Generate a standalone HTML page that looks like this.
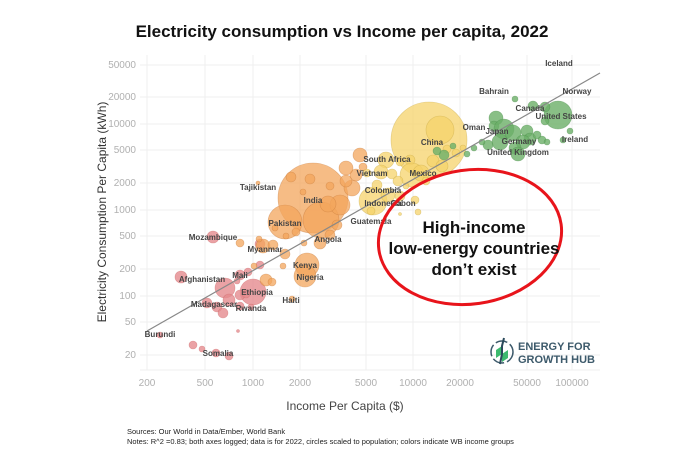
<!DOCTYPE html>
<html><head><meta charset="utf-8"><style>
html,body{margin:0;padding:0;background:#fff;}
svg{display:block;font-family:"Liberation Sans",sans-serif;}
</style></head><body>
<svg width="696" height="464" viewBox="0 0 696 464" xmlns="http://www.w3.org/2000/svg">
<rect width="696" height="464" fill="#fff"/>
<text x="342" y="37" text-anchor="middle" font-size="17" font-weight="bold" fill="#111">Electricity consumption vs Income per capita, 2022</text>
<g stroke="#efefef" stroke-width="1">
<line x1="147" y1="55" x2="147" y2="370"/><line x1="205" y1="55" x2="205" y2="370"/><line x1="253" y1="55" x2="253" y2="370"/><line x1="300" y1="55" x2="300" y2="370"/><line x1="366" y1="55" x2="366" y2="370"/><line x1="413" y1="55" x2="413" y2="370"/><line x1="460" y1="55" x2="460" y2="370"/><line x1="527" y1="55" x2="527" y2="370"/><line x1="572" y1="55" x2="572" y2="370"/>
<line x1="140" y1="65" x2="600" y2="65"/><line x1="140" y1="97" x2="600" y2="97"/><line x1="140" y1="124" x2="600" y2="124"/><line x1="140" y1="150" x2="600" y2="150"/><line x1="140" y1="183" x2="600" y2="183"/><line x1="140" y1="210" x2="600" y2="210"/><line x1="140" y1="236" x2="600" y2="236"/><line x1="140" y1="269" x2="600" y2="269"/><line x1="140" y1="296" x2="600" y2="296"/><line x1="140" y1="322" x2="600" y2="322"/><line x1="140" y1="355" x2="600" y2="355"/>
<line x1="140" y1="370" x2="600" y2="370"/>
</g>
<g font-size="10" fill="#b0b0b0" text-anchor="end">
<text x="136" y="68">50000</text><text x="136" y="100">20000</text><text x="136" y="127">10000</text><text x="136" y="153">5000</text><text x="136" y="186">2000</text><text x="136" y="213">1000</text><text x="136" y="239">500</text><text x="136" y="272">200</text><text x="136" y="299">100</text><text x="136" y="325">50</text><text x="136" y="358">20</text>
</g>
<g font-size="10" fill="#b0b0b0" text-anchor="middle">
<text x="147" y="386">200</text><text x="205" y="386">500</text><text x="253" y="386">1000</text><text x="300" y="386">2000</text><text x="366" y="386">5000</text><text x="413" y="386">10000</text><text x="460" y="386">20000</text><text x="527" y="386">50000</text><text x="572" y="386">100000</text>
</g>
<text x="345" y="410" text-anchor="middle" font-size="12" fill="#444">Income Per Capita ($)</text>
<text transform="translate(106,212) rotate(-90)" text-anchor="middle" font-size="12" fill="#333">Electricity Consumption Per Capita (kWh)</text>
<g fill="#e58b8f" fill-opacity="0.8" stroke="#c66" stroke-opacity="0.5" stroke-width="0.6">
<circle cx="213" cy="237" r="6"/><circle cx="181" cy="277" r="6"/><circle cx="225" cy="288" r="10"/><circle cx="229" cy="300" r="6"/><circle cx="207" cy="303" r="5"/><circle cx="217" cy="307" r="5"/><circle cx="223" cy="313" r="5"/><circle cx="253" cy="292" r="13"/><circle cx="240" cy="295" r="5"/><circle cx="240" cy="275" r="5"/><circle cx="248" cy="272" r="4"/><circle cx="260" cy="265" r="4"/><circle cx="240" cy="306" r="4"/><circle cx="251" cy="307" r="3"/><circle cx="160" cy="335" r="3"/><circle cx="193" cy="345" r="4"/><circle cx="202" cy="349" r="3"/><circle cx="216" cy="353" r="4"/><circle cx="229" cy="356" r="4"/><circle cx="238" cy="331" r="1.5"/><circle cx="260" cy="244" r="5"/><circle cx="246" cy="294" r="4"/><circle cx="237" cy="281" r="3"/>
</g>
<g fill="#f3a55c" fill-opacity="0.75" stroke="#c8793a" stroke-opacity="0.5" stroke-width="0.6">
<circle cx="313" cy="198" r="35"/><circle cx="285" cy="222" r="17"/><circle cx="321" cy="220" r="18"/><circle cx="291" cy="177" r="5"/><circle cx="310" cy="179" r="5"/><circle cx="303" cy="192" r="3"/><circle cx="340" cy="205" r="10"/><circle cx="352" cy="188" r="8"/><circle cx="360" cy="155" r="7"/><circle cx="363" cy="167" r="4"/><circle cx="346" cy="181" r="6"/><circle cx="356" cy="175" r="6"/><circle cx="346" cy="168" r="7"/><circle cx="330" cy="186" r="4"/><circle cx="328" cy="204" r="8"/><circle cx="307" cy="265" r="12"/><circle cx="305" cy="276" r="11"/><circle cx="263" cy="246" r="7"/><circle cx="273" cy="245" r="5"/><circle cx="285" cy="254" r="5"/><circle cx="283" cy="266" r="3"/><circle cx="320" cy="243" r="6"/><circle cx="330" cy="235" r="5"/><circle cx="266" cy="280" r="6"/><circle cx="272" cy="282" r="4"/><circle cx="286" cy="236" r="3"/><circle cx="292" cy="299" r="3"/><circle cx="275" cy="228" r="3"/><circle cx="296" cy="232" r="4"/><circle cx="304" cy="243" r="3"/><circle cx="337" cy="225" r="5"/><circle cx="240" cy="243" r="4"/><circle cx="254" cy="266" r="3"/><circle cx="259" cy="239" r="3"/><circle cx="258" cy="183" r="2"/>
</g>
<g fill="#f5d36b" fill-opacity="0.75" stroke="#c8a840" stroke-opacity="0.5" stroke-width="0.6">
<circle cx="429" cy="140" r="38"/><circle cx="440" cy="130" r="14"/><circle cx="410" cy="160" r="5"/><circle cx="373" cy="201" r="14"/><circle cx="386" cy="160" r="8"/><circle cx="381" cy="172" r="7"/><circle cx="392" cy="174" r="5"/><circle cx="388" cy="195" r="7"/><circle cx="400" cy="196" r="5"/><circle cx="412" cy="175" r="12"/><circle cx="421" cy="173" r="8"/><circle cx="433" cy="161" r="6"/><circle cx="442" cy="166" r="6"/><circle cx="377" cy="185" r="5"/><circle cx="367" cy="173" r="4"/><circle cx="398" cy="181" r="5"/><circle cx="406" cy="186" r="3"/><circle cx="415" cy="200" r="4"/><circle cx="400" cy="162" r="4"/><circle cx="456" cy="153" r="4"/><circle cx="463" cy="148" r="3"/><circle cx="418" cy="212" r="3"/><circle cx="447" cy="149" r="4"/><circle cx="371" cy="211" r="4"/><circle cx="426" cy="181" r="4"/><circle cx="400" cy="214" r="1.5"/>
</g>
<g fill="#6caf68" fill-opacity="0.8" stroke="#4a8c4a" stroke-opacity="0.5" stroke-width="0.6">
<circle cx="558" cy="115" r="14"/><circle cx="545" cy="107" r="5"/><circle cx="533" cy="106" r="5"/><circle cx="545" cy="121" r="4"/><circle cx="496" cy="118" r="7"/><circle cx="494" cy="126" r="5"/><circle cx="504" cy="129" r="10"/><circle cx="513" cy="133" r="8"/><circle cx="527" cy="131" r="6"/><circle cx="530" cy="139" r="6"/><circle cx="523" cy="142" r="7"/><circle cx="515" cy="148" r="6"/><circle cx="500" cy="142" r="8"/><circle cx="488" cy="145" r="5"/><circle cx="518" cy="154" r="7"/><circle cx="537" cy="135" r="4"/><circle cx="542" cy="140" r="4"/><circle cx="563" cy="140" r="3"/><circle cx="515" cy="99" r="3"/><circle cx="547" cy="142" r="3"/><circle cx="482" cy="142" r="3"/><circle cx="474" cy="148" r="3"/><circle cx="467" cy="154" r="3"/><circle cx="444" cy="155" r="5"/><circle cx="437" cy="151" r="4"/><circle cx="453" cy="146" r="3"/><circle cx="570" cy="131" r="3"/>
</g>
<line x1="147" y1="331" x2="600" y2="73" stroke="#888" stroke-width="1.2"/>
<g font-size="8" font-weight="bold" fill="#444" text-anchor="middle">
<text x="559" y="66">Iceland</text><text x="494" y="94">Bahrain</text><text x="577" y="94">Norway</text><text x="530" y="111">Canada</text><text x="561" y="119">United States</text><text x="474" y="130">Oman</text><text x="497" y="134">Japan</text><text x="519" y="144">Germany</text><text x="575" y="142">Ireland</text><text x="518" y="155">United Kingdom</text><text x="432" y="145">China</text><text x="423" y="176">Mexico</text><text x="387" y="162">South Africa</text><text x="372" y="176">Vietnam</text><text x="383" y="193">Colombia</text><text x="383" y="206">Indonesia</text><text x="403" y="206">Gabon</text><text x="371" y="224">Guatemala</text><text x="313" y="203">India</text><text x="258" y="190">Tajikistan</text><text x="285" y="226">Pakistan</text><text x="328" y="242">Angola</text><text x="213" y="240">Mozambique</text><text x="265" y="252">Myanmar</text><text x="305" y="268">Kenya</text><text x="310" y="280">Nigeria</text><text x="202" y="282">Afghanistan</text><text x="240" y="278">Mali</text><text x="257" y="295">Ethiopia</text><text x="214" y="307">Madagascar</text><text x="251" y="311">Rwanda</text><text x="291" y="303">Haiti</text><text x="160" y="337">Burundi</text><text x="218" y="356">Somalia</text>
</g>
<ellipse cx="470" cy="237" rx="92" ry="67" transform="rotate(-8 470 237)" fill="none" stroke="#e8141b" stroke-width="3"/>
<g font-size="17" font-weight="bold" fill="#111" text-anchor="middle">
<text x="474" y="233">High-income</text><text x="474" y="254">low-energy countries</text><text x="474" y="275">don’t exist</text>
</g>
<g transform="translate(502,352)">
<circle r="11" fill="none" stroke="#3d5a6b" stroke-width="1.5" stroke-dasharray="12 3"/>
<path d="M-6,-2 L0,-6 L0,2 L6,-2 L6,6 L0,10 L0,2 L-6,6Z" fill="#3cba6e"/>
<path d="M2,-14 L0,-6 L0,2 L-2,12" stroke="#2b4a5b" stroke-width="2" fill="none"/>
</g>
<text x="518" y="350" font-size="11" fill="#3d5a6b" font-weight="bold">ENERGY FOR</text>
<text x="518" y="363" font-size="11" fill="#3d5a6b" font-weight="bold">GROWTH HUB</text>
<g font-size="7.5" fill="#222">
<text x="127" y="434">Sources: Our World in Data/Ember, World Bank</text>
<text x="127" y="444">Notes: R^2 =0.83; both axes logged; data is for 2022, circles scaled to population; colors indicate WB income groups</text>
</g>
</svg>
</body></html>
